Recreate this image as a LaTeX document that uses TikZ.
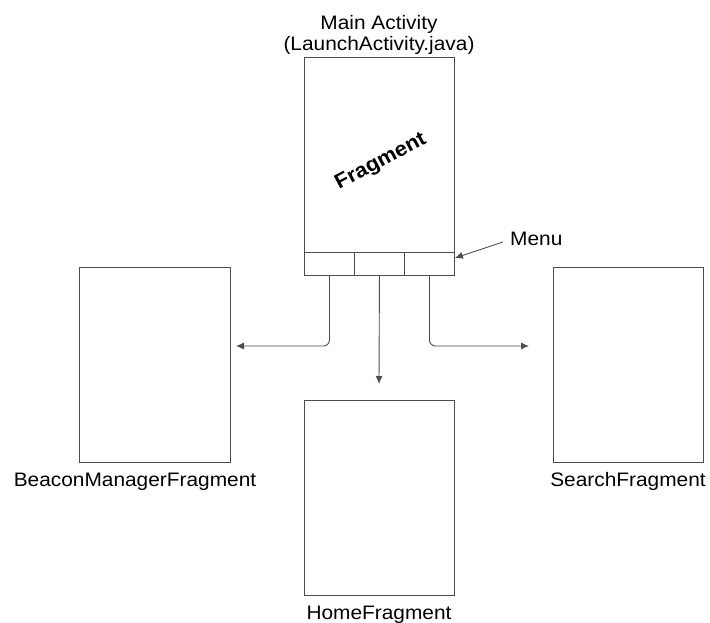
\documentclass[tikz,border=0pt]{standalone}
\usepackage{fontspec}
\setmainfont{Liberation Sans}
\usetikzlibrary{arrows.meta}
\newcommand{\txt}[1]{\scalebox{1.07}[1]{#1}}
\tikzset{
  frame/.style={draw=black!70, line width=0.9pt},
  lbl/.style={inner sep=0pt, anchor=base, font=\fontsize{19.5}{23}\selectfont},
  conn/.style={draw=black!70, line width=0.9pt, rounded corners=6pt, -{Latex[length=8pt,width=7pt]}},
}
\begin{document}
\begin{tikzpicture}[x=1pt,y=-1pt]
\useasboundingbox (0,0) rectangle (710,623);
% main activity
\node[frame, minimum width=150pt, minimum height=218pt, inner sep=0pt] (main) at (379,166) {};
\node[frame, minimum width=50pt, minimum height=23pt, inner sep=0pt, anchor=north west] (m1) at (304,252) {};
\node[frame, minimum width=50pt, minimum height=23pt, inner sep=0pt, anchor=north west] (m2) at (354,252) {};
\node[frame, minimum width=50pt, minimum height=23pt, inner sep=0pt, anchor=north west] (m3) at (404,252) {};
\node[lbl] (t1) at (379,30) {\txt{Main Activity}};
\node[lbl] (t2) at (379,51) {\txt{(LaunchActivity.java)}};
\node[inner sep=0pt, rotate=28, font=\fontsize{20.5}{24}\selectfont\bfseries] (frag) at (381,162) {\txt{Fragment}};
% menu label
\node[lbl, anchor=base west] (menu) at (510,245) {\txt{Menu}};
\coordinate (ms) at (503,242);
\draw[draw=black!70, line width=0.9pt, -{Latex[length=8pt,width=7pt]}] (ms) -- (m3.north east |- 0,258);
% fragments
\node[frame, minimum width=151pt, minimum height=195pt, inner sep=0pt, anchor=north west] (beacon) at (79,267) {};
\node[frame, minimum width=150pt, minimum height=195pt, inner sep=0pt, anchor=north west] (home) at (304,400) {};
\node[frame, minimum width=150pt, minimum height=195pt, inner sep=0pt, anchor=north west] (search) at (553,267) {};
\node[lbl] (bl) at (135,486) {\txt{BeaconManagerFragment}};
\node[lbl] (sl) at (628,486) {\txt{SearchFragment}};
\node[lbl] (hl) at (379,619) {\txt{HomeFragment}};
% connectors
\coordinate (bt) at (236,346);
\coordinate (st) at (529,346);
\coordinate (ht) at (379,384);
\draw[conn] (m1.south) |- (bt);
\draw[conn] (m3.south) |- (st);
\draw[conn] (m2.south) -- (ht);
\end{tikzpicture}
\end{document}
